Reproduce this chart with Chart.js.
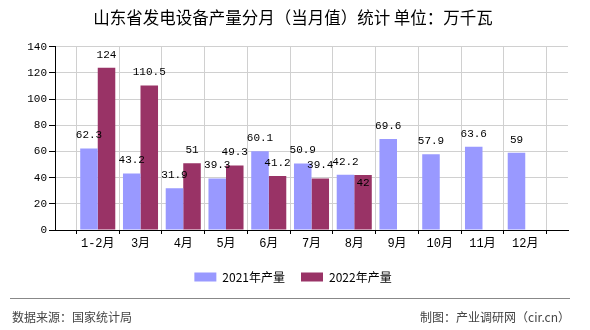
<!DOCTYPE html>
<html>
<head>
<meta charset="utf-8">
<script src="https://cdn.jsdelivr.net/npm/chart.js@4.4.1/dist/chart.umd.min.js"></script>
<style>
  html, body { margin: 0; padding: 0; background: #fff; }
  #wrap { width: 590px; height: 330px; position: relative; }
</style>
</head>
<body>
<div id="wrap"><canvas id="chart" width="590" height="330"></canvas></div>
<script>
// 月份（首尾留空位，使柱子落在刻度线上）
const months = ['', '1-2月', '3月', '4月', '5月', '6月', '7月', '8月', '9月', '10月', '11月', '12月', ''];
const output2021 = [null, 62.3, 43.2, 31.9, 39.3, 60.1, 50.9, 42.2, 69.6, 57.9, 63.6, 59, null];
const output2022 = [null, 124, 110.5, 51, 49.3, 41.2, 39.4, 42, null, null, null, null, null];
const yTicks = [0, 20, 40, 60, 80, 100, 120, 140];

const monoFont = "'Liberation Mono', 'Noto Sans CJK SC', monospace";
const cjkFont = "'Noto Sans CJK SC', sans-serif";

// 柱顶数值标签，和前一系列重叠时放到柱内
const valueLabels = {
    id: 'valueLabels',
    afterDatasetsDraw(chart) {
        const ctx = chart.ctx;
        ctx.save();
        ctx.font = '11px ' + monoFont;
        ctx.fillStyle = '#000';
        ctx.textAlign = 'center';
        ctx.textBaseline = 'middle';
        const placed = [];
        chart.data.datasets.forEach((ds, di) => {
            const meta = chart.getDatasetMeta(di);
            meta.data.forEach((bar, i) => {
                const v = ds.data[i];
                if (v === null || v === undefined) return;
                const text = String(v);
                const w = ctx.measureText(text).width;
                let y = bar.y - 13;
                const hit = placed.find(p => p.i === i && Math.abs(p.y - y) < 11 &&
                    Math.abs(p.x - bar.x) < (p.w + w) / 2);
                if (hit) y = bar.y + 8;
                placed.push({ i, x: bar.x, y, w });
                ctx.fillText(text, bar.x, y);
            });
        });
        ctx.restore();
    }
};

// 底部分隔线与来源
const footer = {
    id: 'footer',
    afterDraw(chart) {
        const ctx = chart.ctx;
        ctx.save();
        ctx.strokeStyle = '#888';
        ctx.lineWidth = 1;
        ctx.beginPath();
        ctx.moveTo(10, 298.5);
        ctx.lineTo(570, 298.5);
        ctx.stroke();
        ctx.fillStyle = '#444';
        ctx.font = '12px ' + cjkFont;
        ctx.textBaseline = 'middle';
        ctx.textAlign = 'left';
        ctx.fillText('数据来源：国家统计局', 12, 317);
        ctx.textAlign = 'right';
        ctx.fillText('制图：产业调研网（cir.cn）', 570, 317);
        ctx.restore();
    }
};

new Chart(document.getElementById('chart'), {
    type: 'bar',
    data: {
        labels: months,
        datasets: [
            {
                label: '2021年产量',
                data: output2021,
                backgroundColor: '#9999ff',
                categoryPercentage: 0.82,
                barPercentage: 1.0
            },
            {
                label: '2022年产量',
                data: output2022,
                backgroundColor: '#993366',
                categoryPercentage: 0.82,
                barPercentage: 1.0
            }
        ]
    },
    options: {
        responsive: false,
        animation: false,
        layout: { padding: { left: 18, right: 22, top: 0, bottom: 37 } },
        plugins: {
            title: {
                display: true,
                text: '山东省发电设备产量分月（当月值）统计 单位：万千瓦',
                color: '#000',
                font: { family: cjkFont, size: 16.5, weight: 'normal' },
                padding: { top: 8, bottom: 19 }
            },
            legend: {
                position: 'bottom',
                labels: {
                    color: '#000',
                    font: { family: cjkFont, size: 12 },
                    boxWidth: 22,
                    boxHeight: 9,
                    padding: 16
                }
            },
            tooltip: { enabled: false }
        },
        scales: {
            x: {
                offset: false,
                grid: {
                    color: '#d0d0d0',
                    tickColor: '#000',
                    tickLength: 4,
                    drawOnChartArea: true
                },
                border: { color: '#000', width: 1 },
                ticks: {
                    color: '#000',
                    font: { family: monoFont, size: 12 },
                    padding: 3,
                    maxRotation: 0,
                    autoSkip: false
                },
                afterFit(scale) { scale.height = 25; }
            },
            y: {
                min: 0,
                max: 140,
                afterBuildTicks(scale) { scale.ticks = yTicks.map(v => ({ value: v })); },
                grid: {
                    color: '#d0d0d0',
                    tickColor: '#000',
                    tickLength: 6
                },
                border: { color: '#000', width: 1 },
                ticks: {
                    color: '#000',
                    font: { family: monoFont, size: 11 },
                    padding: 2
                },
                afterFit(scale) { scale.width = 37; }
            }
        }
    },
    plugins: [valueLabels, footer]
});
</script>
</body>
</html>
